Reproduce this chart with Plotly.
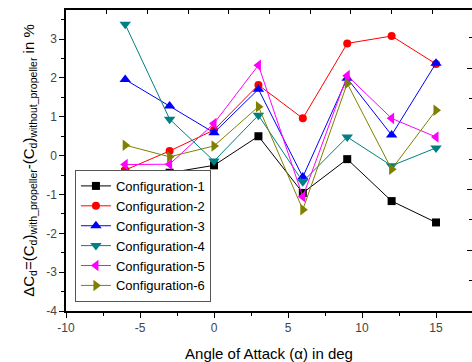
import plotly.graph_objects as go

alpha = [-6, -3, 0, 3, 6, 9, 12, 15]
names = ["Configuration-1", "Configuration-2", "Configuration-3",
         "Configuration-4", "Configuration-5", "Configuration-6"]
cfg1 = [-0.42, -0.44, -0.25, 0.50, -0.96, -0.09, -1.17, -1.72]
cfg2 = [-0.37, 0.12, 0.66, 1.82, 0.96, 2.89, 3.08, 2.36]
cfg3 = [1.96, 1.28, 0.59, 1.71, -0.55, 1.99, 0.53, 2.38]
cfg4 = [3.38, 0.94, -0.14, 1.04, -0.67, 0.48, -0.26, 0.20]
cfg5 = [-0.23, -0.22, 0.83, 2.33, -1.06, 2.06, 0.96, 0.48]
cfg6 = [0.27, -0.03, 0.25, 1.26, -1.39, 1.86, -0.35, 1.17]
series = [cfg1, cfg2, cfg3, cfg4, cfg5, cfg6]
colors = ["#000000", "#FF0000", "#0000FF", "#008080", "#FF00FF", "#808000"]
symbols = ["square", "circle", "triangle-up", "triangle-down", "triangle-left", "triangle-right"]
sizes = [8, 8, 10, 10, 10, 10]

xtick_vals = [-10, -5, 0, 5, 10, 15]
xtick_text = ["-10", "-5", "0", "5", "10", "15"]
ytick_vals = [-4, -3, -2, -1, 0, 1, 2, 3]
ytick_text = ["-4", "-3", "-2", "-1", "0", "1", "2", "3"]

fig = go.Figure()
for name, ys, c, s, sz in zip(names, series, colors, symbols, sizes):
    fig.add_trace(go.Scatter(x=alpha, y=ys, name=name, mode="lines+markers",
                             line=dict(color=c, width=1),
                             marker=dict(symbol=s, size=sz, color=c, line=dict(width=0))))

# frame helper axes (top / right tick rows)
fig.add_trace(go.Scatter(x=[None], y=[None], xaxis="x2", yaxis="y2",
                         showlegend=False, hoverinfo="skip"))

font = "Liberation Sans, Arial, sans-serif"
fig.update_layout(
    width=472, height=362,
    margin=dict(l=66, r=0, t=10, b=51),
    paper_bgcolor="white", plot_bgcolor="white",
    font=dict(family=font, color="#000"),
    showlegend=True,
    legend=dict(x=0.022, y=0.03, xanchor="left", yanchor="bottom",
                bordercolor="#555", borderwidth=1, bgcolor="white",
                font=dict(size=13, family=font, color="#000"),
                tracegroupgap=0, itemwidth=30),
    xaxis=dict(range=[-10, 17.43], tickvals=xtick_vals, ticktext=xtick_text,
               ticks="outside", ticklen=5, tickcolor="#000", tickwidth=1,
               minor=dict(ticks="outside", ticklen=3, dtick=2.5, tick0=-10, tickcolor="#000"),
               showline=True, linecolor="#000", linewidth=1.5, showgrid=False, zeroline=False,
               tickfont=dict(size=12, color="#444"),
               title=dict(text="Angle of Attack (\u03b1) in deg", font=dict(size=15), standoff=14)),
    yaxis=dict(range=[-4, 3.75], tickvals=ytick_vals, ticktext=ytick_text,
               ticks="outside", ticklen=5, tickcolor="#000", tickwidth=1,
               minor=dict(ticks="outside", ticklen=3, dtick=0.5, tick0=0, tickcolor="#000"),
               showline=True, linecolor="#000", linewidth=1.5, showgrid=False, zeroline=False,
               tickfont=dict(size=12, color="#444"),
               title=dict(text="\u0394C<sub>d</sub>=(C<sub>d</sub>)<sub>with_propeller</sub>-(C<sub>d</sub>)<sub>without_propeller</sub> in %",
                          font=dict(size=15), standoff=8)),
    xaxis2=dict(overlaying="x", side="top", anchor="y2", range=[0, 9.975], dtick=1, tick0=0,
                ticks="inside", ticklen=4, tickcolor="#000", showticklabels=False,
                showline=True, linecolor="#000", linewidth=1.5, showgrid=False, zeroline=False),
    yaxis2=dict(overlaying="y", side="right", anchor="x2", range=[0, 4.96], dtick=1, tick0=0,
                ticks="inside", ticklen=5, tickcolor="#000", showticklabels=False,
                minor=dict(ticks="inside", ticklen=3, dtick=0.5, tick0=0, tickcolor="#000"),
                showline=False, showgrid=False, zeroline=False),
)
fig.write_html("out.html")
